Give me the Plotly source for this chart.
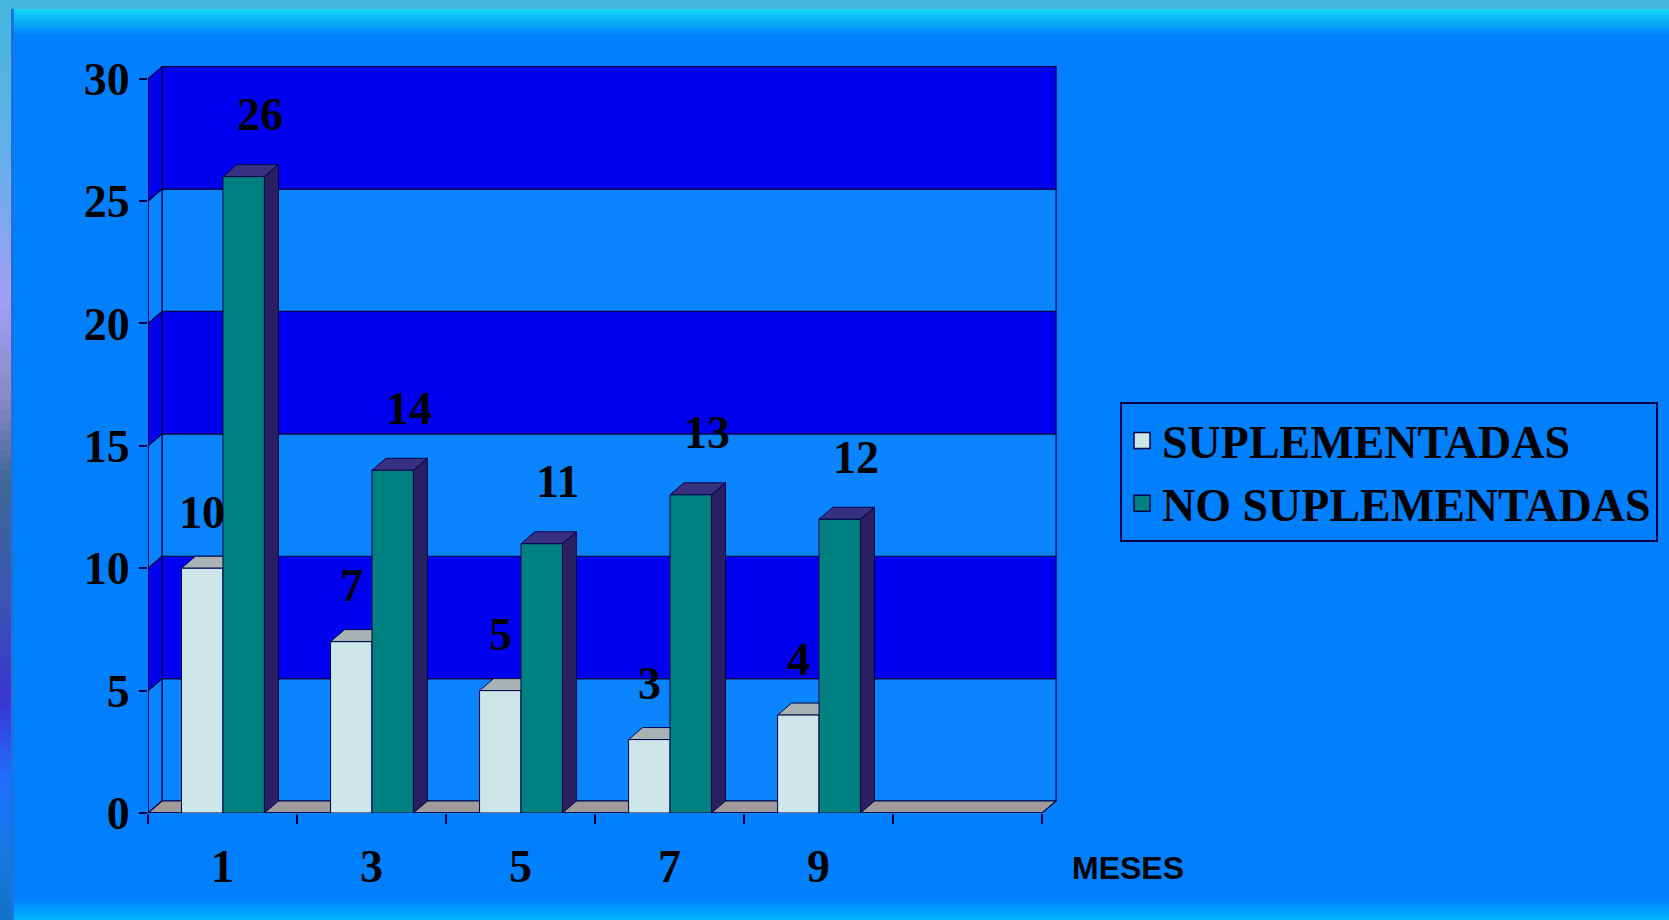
import plotly.graph_objects as go

# ---------------- data ----------------
months = ["1", "3", "5", "7", "9"]
suplementadas = [10, 7, 5, 3, 4]
no_suplementadas = [26, 14, 11, 13, 12]
y_ticks = [0, 5, 10, 15, 20, 25, 30]
series_names = ["SUPLEMENTADAS", "NO SUPLEMENTADAS"]

# ---------------- style ----------------
W, H = 1669, 920
ML, MT = 148, 64
PW, PH = 909, 749
MR, MB = W - ML - PW, H - MT - PH
X_RANGE = [-0.5, 5.6]
Y_RANGE = [0, 30.6]
N_SLOTS = 6                       # 5 months + one empty slot, as in the original
DX = 14 / (PW / (X_RANGE[1] - X_RANGE[0]))   # 3D depth in x data units
DY = 12 / (PH / (Y_RANGE[1] - Y_RANGE[0]))   # 3D depth in y data units

BG = "#0080ff"
DARK_BAND = "#0000f0"
LIGHT_BAND = "#0a84ff"
EDGE = "#00004a"
FLOOR = "#a09a9a"
SUP_FRONT = "#cde6ea"
SUP_TOP = "#a9b3b3"
SUP_SIDE = "#8a9a9c"
NO_FRONT = "#008080"
NO_TOP = "#383080"
NO_SIDE = "#282060"
BAR_W = 0.278
SUP_OFF = -0.275
NO_OFF = 0.003
SERIF = "Liberation Serif"

xpos = list(range(len(months)))


def px_x(px):
    return (px - ML) / PW


def px_y(py):
    return 1 - (py - MT) / PH


def hexmix(c1, c2, t):
    a = [int(c1[i:i + 2], 16) for i in (1, 3, 5)]
    b = [int(c2[i:i + 2], 16) for i in (1, 3, 5)]
    return "#" + "".join(f"{round(a[i] + (b[i] - a[i]) * t):02x}" for i in range(3))


def poly(pts):
    return "M " + " L ".join(f"{x},{y}" for x, y in pts) + " Z"


shapes = []
left = X_RANGE[0]
right = left + N_SLOTS
top = y_ticks[-1]

# back wall bands
for i in range(len(y_ticks) - 1):
    y0, y1 = y_ticks[i], y_ticks[i + 1]
    col = DARK_BAND if i % 2 == 1 else LIGHT_BAND
    shapes.append(dict(type="rect", xref="x", yref="y", layer="below",
                       x0=left + DX, x1=right + DX, y0=y0 + DY, y1=y1 + DY,
                       fillcolor=col, line=dict(color=EDGE, width=1.2)))
    # left side wall piece
    shapes.append(dict(type="path", xref="x", yref="y", layer="below",
                       path=poly([(left, y0), (left + DX, y0 + DY), (left + DX, y1 + DY), (left, y1)]),
                       fillcolor=col, line=dict(color=EDGE, width=1.2)))

# floor
shapes.append(dict(type="path", xref="x", yref="y", layer="below",
                   path=poly([(left, 0), (right, 0), (right + DX, DY), (left + DX, DY)]),
                   fillcolor=FLOOR, line=dict(color=EDGE, width=1.2)))
# front axis lines
shapes.append(dict(type="line", xref="x", yref="y", layer="below",
                   x0=left, x1=left, y0=0, y1=top, line=dict(color=EDGE, width=1.5)))
shapes.append(dict(type="line", xref="x", yref="y", layer="below",
                   x0=left, x1=right, y0=0, y1=0, line=dict(color=EDGE, width=1.5)))

# 3D top and side faces of bars
for vals, off, ctop, cside in ((suplementadas, SUP_OFF, SUP_TOP, SUP_SIDE),
                               (no_suplementadas, NO_OFF, NO_TOP, NO_SIDE)):
    for xc, v in zip(xpos, vals):
        x0 = xc + off
        x1 = x0 + BAR_W
        shapes.append(dict(type="path", xref="x", yref="y", layer="below",
                           path=poly([(x1, 0), (x1 + DX, DY), (x1 + DX, v + DY), (x1, v)]),
                           fillcolor=cside, line=dict(color=EDGE, width=1)))
        shapes.append(dict(type="path", xref="x", yref="y", layer="below",
                           path=poly([(x0, v), (x1, v), (x1 + DX, v + DY), (x0 + DX, v + DY)]),
                           fillcolor=ctop, line=dict(color=EDGE, width=1)))

# ---- slide decoration (frame gradients) ----
shapes.append(dict(type="rect", xref="paper", yref="paper", layer="below",
                   x0=px_x(0), x1=px_x(W), y0=px_y(0), y1=px_y(9),
                   fillcolor="#44b6de", line=dict(width=0)))
for k in range(14):
    shapes.append(dict(type="rect", xref="paper", yref="paper", layer="below",
                       x0=px_x(10), x1=px_x(W), y0=px_y(9 + 2 * k), y1=px_y(11 + 2 * k),
                       fillcolor=hexmix("#12d6f2", BG, k / 13), line=dict(width=0)))
for k in range(10):
    shapes.append(dict(type="rect", xref="paper", yref="paper", layer="below",
                       x0=px_x(10), x1=px_x(W), y0=px_y(900 + 2 * k), y1=px_y(902 + 2 * k),
                       fillcolor=hexmix(BG, "#00b4ff", (k + 1) / 10), line=dict(width=0)))
stops = [(0, "#44b6de"), (150, "#62b0e8"), (300, "#a29ef6"), (400, "#8a88c4"),
         (480, "#3f6898"), (600, "#3a56b4"), (700, "#3a34d0"), (780, "#1f70ff"),
         (850, "#1a78e4"), (920, "#1270c8")]
for (ya, ca), (yb, cb) in zip(stops[:-1], stops[1:]):
    n = max(1, (yb - ya) // 10)
    for k in range(n):
        y0 = ya + (yb - ya) * k / n
        y1 = ya + (yb - ya) * (k + 1) / n
        shapes.append(dict(type="rect", xref="paper", yref="paper", layer="below",
                           x0=px_x(0), x1=px_x(11), y0=px_y(y0), y1=px_y(y1 + 0.5),
                           fillcolor=hexmix(ca, cb, (k + 0.5) / n), line=dict(width=0)))
shapes.append(dict(type="rect", xref="paper", yref="paper", layer="below",
                   x0=px_x(11), x1=px_x(14), y0=px_y(9), y1=px_y(H),
                   fillcolor="#1a74e0", line=dict(width=0)))

fig = go.Figure()
fig.add_trace(go.Bar(x=xpos, y=suplementadas, name=series_names[0], width=BAR_W, offset=SUP_OFF,
                     marker=dict(color=SUP_FRONT, line=dict(color=EDGE, width=1)),
                     showlegend=False, hoverinfo="y"))
fig.add_trace(go.Bar(x=xpos, y=no_suplementadas, name=series_names[1], width=BAR_W, offset=NO_OFF,
                     marker=dict(color=NO_FRONT, line=dict(color=EDGE, width=1)),
                     showlegend=False, hoverinfo="y"))
for nm, col in zip(series_names, (SUP_FRONT, NO_FRONT)):
    fig.add_trace(go.Scatter(x=[None], y=[None], mode="markers", name=nm,
                             marker=dict(symbol="square", size=16, color=col,
                                         line=dict(color=EDGE, width=1.5))))

annotations = []
for xc, v in zip(xpos, suplementadas):
    annotations.append(dict(x=xc + SUP_OFF + BAR_W / 2, y=v, xref="x", yref="y", text=str(v),
                            showarrow=False, yshift=56, xshift=0,
                            font=dict(family=SERIF, size=46, color="black", weight="bold")))
for xc, v in zip(xpos, no_suplementadas):
    annotations.append(dict(x=xc + NO_OFF + BAR_W / 2, y=v, xref="x", yref="y", text=str(v),
                            showarrow=False, yshift=62, xshift=16,
                            font=dict(family=SERIF, size=46, color="black", weight="bold")))
annotations.append(dict(x=px_x(1128), y=px_y(868), xref="paper", yref="paper", text="MESES",
                        showarrow=False, xanchor="center", yanchor="middle",
                        font=dict(family="Liberation Sans", size=32, color="black", weight="bold")))

fig.update_layout(
    width=W, height=H, autosize=False,
    margin=dict(l=ML, r=MR, t=MT, b=MB, pad=0),
    paper_bgcolor=BG, plot_bgcolor="rgba(0,0,0,0)",
    barmode="overlay",
    shapes=shapes, annotations=annotations,
    xaxis=dict(range=X_RANGE, tickmode="array", tickvals=xpos, ticktext=months,
               showgrid=False, zeroline=False, showline=False, ticks="",
               ticklabelstandoff=22,
               tickfont=dict(family=SERIF, size=46, color="black", weight="bold"),
               minor=dict(tick0=-0.5, dtick=1, ticks="outside", ticklen=10,
                          tickcolor=EDGE, tickwidth=1.5, showgrid=False)),
    yaxis=dict(range=Y_RANGE, tickmode="array", tickvals=y_ticks,
               showgrid=False, zeroline=False, showline=False,
               ticks="outside", ticklen=8, tickcolor=EDGE, tickwidth=1.5,
               ticklabelstandoff=0,
               tickfont=dict(family=SERIF, size=46, color="black", weight="bold")),
    legend=dict(xref="container", yref="container", x=1120 / W, y=1 - 402 / H,
                xanchor="left", yanchor="top", bgcolor=BG, bordercolor=EDGE, borderwidth=2,
                font=dict(family=SERIF, size=46, color="black", weight="bold"),
                itemsizing="trace"),
    showlegend=True,
)

fig.write_html("out.html")
